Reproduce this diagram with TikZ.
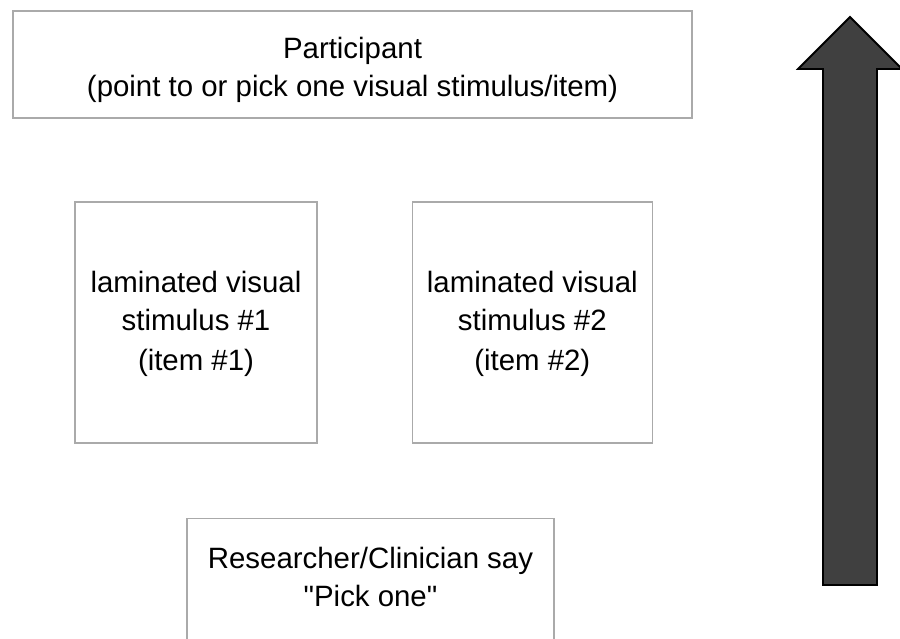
\documentclass[tikz,border=0pt]{standalone}
\usepackage{fontspec}
\setmainfont{Liberation Sans}
\newfontfamily\labelfont{Liberation Sans}
\usepackage{tikz}
\usetikzlibrary{positioning}
\definecolor{boxgray}{RGB}{170,170,170}
\definecolor{arrowdark}{RGB}{64,64,64}

\begin{document}
\begin{tikzpicture}[x=1pt,y=-1pt,
  box/.style={draw=boxgray,line width=1.3pt,fill=white,inner sep=0pt,
    font=\labelfont\fontsize{29.4}{38}\selectfont,align=center},
  txt/.style={inner sep=0pt,font=\labelfont\fontsize{29.4}{38}\selectfont,align=center},
  bigarrow/.style={draw=black,fill=arrowdark,line width=1.8pt,line join=miter}]
  \clip (0,0) rectangle (900,639);
  \fill[white] (0,0) rectangle (900,639);
  \node[box,minimum width=679,minimum height=107](part) at (352.5,64.5){};
  \node[txt](parttxt) at (352.5,70){Participant\\(point to or pick one visual stimulus/item)};
  \node[box,minimum width=242,minimum height=241](stim1) at (196,322.5){};
  \node[txt](stim1txt) at (196,323.5){laminated visual\\stimulus \#1\\[2pt](item \#1)};
  \node[box,minimum width=240,minimum height=241,right=94 of stim1](stim2){};
  \node[txt](stim2txt) at (stim2.center|-stim1txt.center){laminated visual\\stimulus \#2\\[2pt](item \#2)};
  \node[box,minimum width=367,minimum height=150,anchor=north](say) at (370.5,518){};
  \node[txt](saytxt) at (370.5,577){Researcher/Clinician say\\"Pick one"};
  % upward arrow
  \draw[bigarrow] (850,17) -- (902,69) -- (877,69) -- (877,585)
    -- (823,585) -- (823,69) -- (798,69) -- cycle;
\end{tikzpicture}
\end{document}
